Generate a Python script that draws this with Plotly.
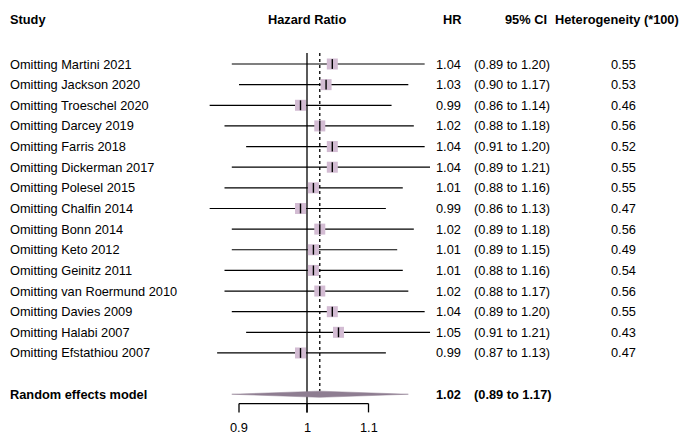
import math
import plotly.graph_objects as go

studies = ["Omitting Martini 2021", "Omitting Jackson 2020", "Omitting Troeschel 2020",
           "Omitting Darcey 2019", "Omitting Farris 2018", "Omitting Dickerman 2017",
           "Omitting Polesel 2015", "Omitting Chalfin 2014", "Omitting Bonn 2014",
           "Omitting Keto 2012", "Omitting Geinitz 2011", "Omitting van Roermund 2010",
           "Omitting Davies 2009", "Omitting Halabi 2007", "Omitting Efstathiou 2007"]
hr = [1.04, 1.03, 0.99, 1.02, 1.04, 1.04, 1.01, 0.99, 1.02, 1.01, 1.01, 1.02, 1.04, 1.05, 0.99]
lo = [0.89, 0.90, 0.86, 0.88, 0.91, 0.89, 0.88, 0.86, 0.89, 0.89, 0.88, 0.88, 0.89, 0.91, 0.87]
hi = [1.20, 1.17, 1.14, 1.18, 1.20, 1.21, 1.16, 1.13, 1.18, 1.15, 1.16, 1.17, 1.20, 1.21, 1.13]
het = [0.55, 0.53, 0.46, 0.56, 0.52, 0.55, 0.55, 0.47, 0.56, 0.49, 0.54, 0.56, 0.55, 0.43, 0.47]

pooled_label = "Random effects model"
pooled_hr = 1.02
pooled_lo = 0.89
pooled_hi = 1.17

tick_vals = [0.9, 1, 1.1]
tick_labels = ["0.9", "1", "1.1"]

headers = ["Study", "Hazard Ratio", "HR", "95% CI", "Heterogeneity (*100)"]

W, H = 682, 435
FONT = "Liberation Sans, Arial, sans-serif"
FS = 12.8

n = len(studies)
rows = list(range(n))
pooled_row = n + 1
header_row = -2.14
axis_row = pooled_row + 0.45
tick_end = pooled_row + 0.88
ticklab_row = pooled_row + 1.6
top_row = -0.53

fig = go.Figure()

# CI lines
xs, ys = [], []
for r, l, h in zip(rows, lo, hi):
    xs += [l, h, None]
    ys += [r, r, None]
fig.add_trace(go.Scatter(x=xs, y=ys, mode="lines", line=dict(color="black", width=1.2),
                         hoverinfo="skip", showlegend=False))

# reference line at 1
fig.add_trace(go.Scatter(x=[1, 1], y=[top_row, tick_end], mode="lines",
                         line=dict(color="black", width=1.3), hoverinfo="skip", showlegend=False))
# pooled dotted line
fig.add_trace(go.Scatter(x=[pooled_hr, pooled_hr], y=[top_row, pooled_row - 0.15], mode="lines",
                         line=dict(color="black", width=1.3, dash="dot"), hoverinfo="skip",
                         showlegend=False))

# squares
fig.add_trace(go.Scatter(x=hr, y=rows, mode="markers",
                         marker=dict(symbol="square", size=11, color="#D3BCD3", line=dict(width=0)),
                         hoverinfo="skip", showlegend=False))
fig.add_trace(go.Scatter(x=hr, y=rows, mode="markers",
                         marker=dict(symbol="line-ns", size=7, line=dict(color="black", width=1.4)),
                         hoverinfo="skip", showlegend=False))

# diamond
fig.add_trace(go.Scatter(x=[pooled_lo, pooled_hr, pooled_hi, pooled_hr, pooled_lo],
                         y=[pooled_row, pooled_row - 0.15, pooled_row, pooled_row + 0.15, pooled_row],
                         mode="lines", fill="toself", fillcolor="#8E7D91",
                         line=dict(color="#8E7D91", width=0.5), hoverinfo="skip", showlegend=False))

# axis bracket
ax_x, ax_y = [tick_vals[0], tick_vals[-1], None], [axis_row, axis_row, None]
for tv in tick_vals:
    ax_x += [tv, tv, None]
    ax_y += [axis_row, tick_end, None]
fig.add_trace(go.Scatter(x=ax_x, y=ax_y, mode="lines", line=dict(color="black", width=1.3),
                         hoverinfo="skip", showlegend=False))

ann = []
def txt(xpx, y, s, anchor="left", bold=False):
    ann.append(dict(x=xpx / W, xref="paper", y=y, yref="y", text=(f"<b>{s}</b>" if bold else s),
                    showarrow=False, xanchor=anchor, yanchor="middle",
                    font=dict(family=FONT, size=FS, color="black")))

# headers
txt(8, header_row, headers[0], "left", True)
ann.append(dict(x=math.log10(1), xref="x", y=header_row, yref="y", text=f"<b>{headers[1]}</b>",
                showarrow=False, xanchor="center", yanchor="middle",
                font=dict(family=FONT, size=FS, color="black")))
txt(463, header_row, headers[2], "right", True)
txt(549, header_row, headers[3], "right", True)
txt(681, header_row, headers[4], "right", True)

for r, s, v, l, h, g in zip(rows, studies, hr, lo, hi, het):
    txt(8, r, s)
    txt(463, r, f"{v:.2f}", "right")
    txt(472, r, f"({l:.2f} to {h:.2f})", "left")
    txt(623, r, f"{g:.2f}", "center")

txt(8, pooled_row, pooled_label, "left", True)
txt(463, pooled_row, f"{pooled_hr:.2f}", "right", True)
txt(472, pooled_row, f"({pooled_lo:.2f} to {pooled_hi:.2f})", "left", True)

for tv, tl in zip(tick_vals, tick_labels):
    ann.append(dict(x=math.log10(tv), xref="x", y=ticklab_row, yref="y", text=tl, showarrow=False,
                    xanchor="center", yanchor="middle",
                    font=dict(family=FONT, size=FS, color="black")))

# x: log axis, 1 at pixel 307, ~1486 px per decade
ppd = 1486.0
x0 = -307 / ppd
x1 = (W - 307) / ppd
row_px = 20.64
y_top = -64 / row_px
y_bot = (H - 64) / row_px

fig.update_layout(
    width=W, height=H, margin=dict(l=0, r=0, t=0, b=0),
    paper_bgcolor="white", plot_bgcolor="white",
    xaxis=dict(type="log", range=[x0, x1], visible=False, domain=[0, 1]),
    yaxis=dict(range=[y_bot, y_top], visible=False, domain=[0, 1]),
    annotations=ann, showlegend=False,
)

fig.write_html("out.html", config={"displayModeBar": False},
               post_script="document.body.style.margin='0';document.body.style.overflow='hidden';")
